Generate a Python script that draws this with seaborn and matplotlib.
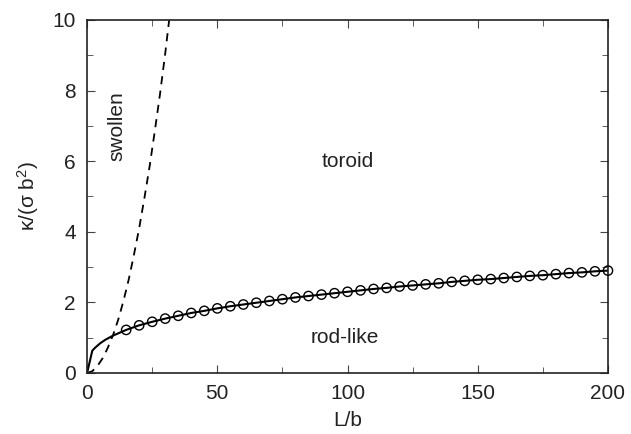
import matplotlib
matplotlib.use("Agg")
import matplotlib.pyplot as plt
import seaborn as sns
import pandas as pd
from matplotlib.ticker import MultipleLocator

# --- data ---
# boundary toroid / rod-like (solid line)
solid_L = [0, 2, 3, 5, 7, 10]
solid_k = [0.0, 0.63, 0.71, 0.84, 0.94, 1.06]
# circles along the solid line
circ_L = [15, 20, 25, 30, 35, 40, 45, 50, 55, 60, 65, 70, 75, 80, 85, 90, 95,
          100, 105, 110, 115, 120, 125, 130, 135, 140, 145, 150, 155, 160, 165,
          170, 175, 180, 185, 190, 195, 200]
circ_k = [1.22, 1.35, 1.45, 1.54, 1.62, 1.70, 1.76, 1.83, 1.89, 1.94, 1.99,
          2.04, 2.09, 2.14, 2.18, 2.22, 2.26, 2.30, 2.34, 2.38, 2.41, 2.45,
          2.48, 2.51, 2.54, 2.58, 2.61, 2.64, 2.66, 2.69, 2.72, 2.75, 2.77,
          2.80, 2.83, 2.85, 2.88, 2.90]
# swollen boundary (dashed line)
dash_L = [0, 2, 4, 6, 8, 10, 12, 14, 16, 18, 20, 22, 24, 26, 28, 30, 32]
dash_k = [0.0, 0.05, 0.2, 0.42, 0.72, 1.08, 1.52, 2.05, 2.65, 3.35, 4.1,
          4.95, 5.85, 6.85, 7.9, 9.05, 10.3]

region_labels = ["swollen", "toroid", "rod-like"]

sns.set_style("ticks")
plt.rcParams['font.family'] = ['Liberation Sans', 'DejaVu Sans']
plt.rcParams['mathtext.fontset'] = 'custom'
plt.rcParams['mathtext.rm'] = 'Liberation Sans'
plt.rcParams['mathtext.it'] = 'Liberation Sans'

fig = plt.figure(figsize=(6.31, 4.34), dpi=100)
ax = fig.add_axes([0.138, 0.1406, 0.8255, 0.8134])

line_df = pd.DataFrame({"L": solid_L + circ_L, "k": solid_k + circ_k})
circ_df = pd.DataFrame({"L": circ_L, "k": circ_k})
dash_df = pd.DataFrame({"L": dash_L, "k": dash_k})

sns.lineplot(data=line_df, x="L", y="k", ax=ax, color="black", lw=1.5,
             sort=False, estimator=None)
sns.scatterplot(data=circ_df, x="L", y="k", ax=ax, s=45, facecolor="none",
                edgecolor="black", linewidth=1.0, zorder=3, clip_on=False)
ax.plot(dash_df["L"], dash_df["k"], color="black", lw=1.3, ls=(0, (4.5, 3.5)))

ax.set_xlim(0, 200)
ax.set_ylim(0, 10)
ax.xaxis.set_major_locator(MultipleLocator(50))
ax.xaxis.set_minor_locator(MultipleLocator(25))
ax.yaxis.set_major_locator(MultipleLocator(2))
ax.yaxis.set_minor_locator(MultipleLocator(1))
ax.tick_params(which="both", direction="in", top=True, right=True,
               labelsize=15, color="#444444", labelcolor="#222222", pad=8)
ax.tick_params(which="major", length=6)
ax.tick_params(which="minor", length=4)
for sp in ax.spines.values():
    sp.set_linewidth(1.2)
    sp.set_color("#222222")

ax.set_xlabel("L/b", fontsize=15, labelpad=6, color="#222222")
ax.set_ylabel("κ/(σ b$^2$)", fontsize=15, labelpad=8, color="#222222")

ax.text(11.5, 7.0, region_labels[0], rotation=90, fontsize=15,
        ha="center", va="center", color="#222222")
ax.text(100, 6.0, region_labels[1], fontsize=15, ha="center", va="center",
        color="#222222")
ax.text(99, 1.0, region_labels[2], fontsize=15, ha="center", va="center",
        color="#222222")

fig.savefig("out.png", dpi=100)
